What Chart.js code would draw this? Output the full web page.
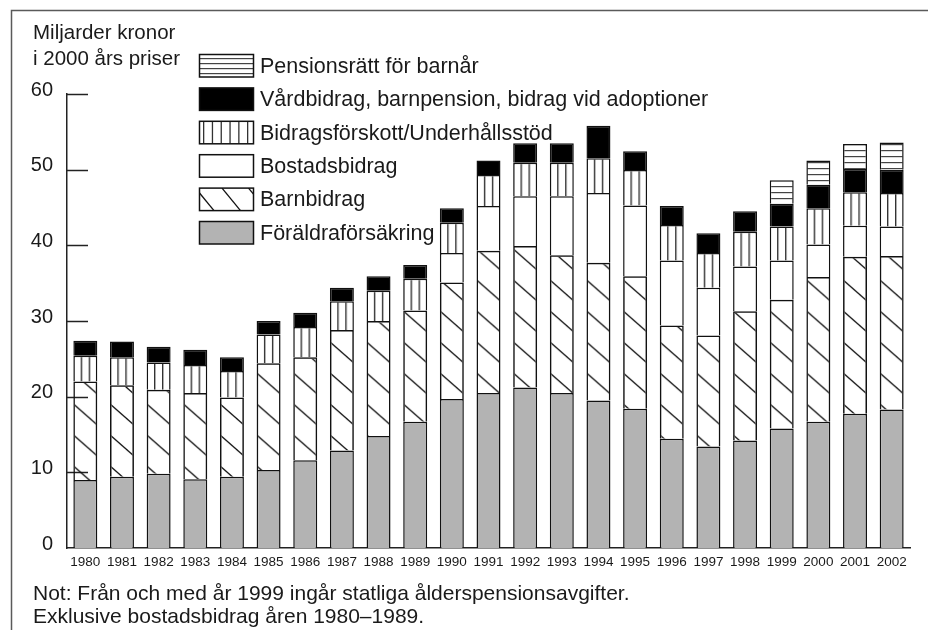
<!DOCTYPE html>
<html><head><meta charset="utf-8">
<script src="https://cdn.jsdelivr.net/npm/chart.js@4.4.1/dist/chart.umd.min.js"></script>
<style>html,body{margin:0;padding:0;background:#fff;}canvas{display:block;}</style>
</head><body>
<canvas id="c" width="928" height="630"></canvas>
<script>
// ---- DATA (Miljarder kronor i 2000 års priser) ----
const years = ['1980','1981','1982','1983','1984','1985','1986','1987','1988','1989','1990','1991','1992','1993','1994','1995','1996','1997','1998','1999','2000','2001','2002'];
const foraldraforsakring = [9.0,9.4,9.8,9.1,9.4,10.3,11.6,12.9,14.8,16.7,19.7,20.5,21.2,20.5,19.5,18.4,14.45,13.4,14.2,15.8,16.7,17.75,18.3];
const barnbidrag = [13.0,12.1,11.1,11.4,10.5,14.1,13.6,15.9,15.2,14.7,15.4,18.8,18.7,18.2,18.2,17.5,14.95,14.7,17.1,17.0,19.1,20.75,20.3];
const bostadsbidrag = [null,null,null,null,null,null,null,null,null,null,3.9,5.9,6.6,7.8,9.2,9.35,8.6,6.3,5.9,5.2,4.3,4.1,3.9];
const bidragsforskott = [3.4,3.7,3.6,3.7,3.5,3.8,4.0,3.8,4.0,4.2,4.0,4.1,4.4,4.4,4.6,4.7,4.7,4.6,4.6,4.5,4.8,4.4,4.4];
const vardbidrag = [2.0,2.1,2.1,2.0,1.8,1.8,1.9,1.8,1.9,1.8,1.9,1.9,2.6,2.6,4.3,2.5,2.5,2.6,2.7,3.0,3.1,3.1,3.1];
const pensionsratt = [null,null,null,null,null,null,null,null,null,null,null,null,null,null,null,null,null,null,null,3.1,3.2,3.3,3.6];
const yTicks = [0,10,20,30,40,50,60];
const seriesNames = ['Föräldraförsäkring','Barnbidrag','Bostadsbidrag','Bidragsförskott/Underhållsstöd','Vårdbidrag, barnpension, bidrag vid adoptioner','Pensionsrätt för barnår'];
const axisTitle = ['Miljarder kronor','i 2000 års priser'];
const notes = ['Not: Från och med år 1999 ingår statliga ålderspensionsavgifter.','Exklusive bostadsbidrag åren 1980–1989.'];

// ---- STYLE ----
const FONT = '"Liberation Sans", Arial, Helvetica, sans-serif';
const TXT = '#1a1a1a';
const BAR_PCT = 0.654;
const GREY = '#b3b3b3';

function xFont(){
  const c = document.createElement('canvas').getContext('2d');
  c.font = '16px monospace'; const a = c.measureText('1980 abcdef').width;
  c.font = '16px "Liberation Sans Narrow", monospace'; const b = c.measureText('1980 abcdef').width;
  return a !== b ? {family:'"Liberation Sans Narrow"', size:16} : {family:FONT, size:13.5};
}

function mkCanvas(w,h){const c=document.createElement('canvas');c.width=w;c.height=h;return c;}

const patCache = {};
function barGeom(chart, i){
  const xs = chart.scales.x;
  const w = xs.width / years.length * BAR_PCT;
  const left = xs.getPixelForValue(i) - w/2;
  return {left, w};
}
function diagTile(w){
  const W = Math.ceil(w)+3, H = 31, slope = 0.88;
  const c = mkCanvas(W,H), g = c.getContext('2d');
  g.strokeStyle = '#111'; g.lineWidth = 1.3;
  for (const y0 of [-H,0,H]) { g.beginPath(); g.moveTo(-1,y0); g.lineTo(W+1,y0+slope*(W+2)); g.stroke(); }
  return c;
}
function vertTile(step){
  const W = step, c = mkCanvas(Math.round(W*4),4), g = c.getContext('2d');
  g.fillStyle='#fff'; g.fillRect(0,0,c.width,4);
  g.fillStyle='#333';
  for (let k=0;k<4;k++) g.fillRect(Math.round(k*W),0,1.4,4);
  return c;
}
function horizTile(){
  const c = mkCanvas(4,6), g = c.getContext('2d');
  g.fillStyle='#fff'; g.fillRect(0,0,4,6);
  g.fillStyle='#444'; g.fillRect(0,0,4,1.2);
  return c;
}
function patternFor(kind, ctx){
  const chart = ctx.chart;
  if (ctx.type !== 'data' || !chart.scales || !chart.scales.x || !chart.chartArea) return '#fff';
  const {left, w} = barGeom(chart, ctx.dataIndex);
  const key = kind + ':' + ctx.dataIndex + ':' + left.toFixed(2);
  if (patCache[key]) return patCache[key];
  const g = chart.ctx;
  let p;
  if (kind === 'diag') {
    p = g.createPattern(diagTile(w), 'repeat');
    p.setTransform(new DOMMatrix().translate(left, 0));
  } else if (kind === 'vert') {
    p = g.createPattern(vertTile(w/3), 'repeat');
    p.setTransform(new DOMMatrix().translate(left-0.7, 0));
  } else {
    p = g.createPattern(horizTile(), 'repeat');
  }
  patCache[key] = p;
  return p;
}

const common = {borderColor:'#111', borderWidth:1.5, borderSkipped:'start', barPercentage:BAR_PCT, categoryPercentage:1};
const datasets = [
  {label:seriesNames[0], data:foraldraforsakring, backgroundColor:GREY, ...common},
  {label:seriesNames[1], data:barnbidrag, backgroundColor:(c)=>patternFor('diag',c), ...common},
  {label:seriesNames[2], data:bostadsbidrag, backgroundColor:'#fff', ...common},
  {label:seriesNames[3], data:bidragsforskott, backgroundColor:(c)=>patternFor('vert',c), ...common},
  {label:seriesNames[4], data:vardbidrag, backgroundColor:'#000', ...common},
  {label:seriesNames[5], data:pensionsratt, backgroundColor:(c)=>patternFor('horiz',c), ...common}
];

const decor = {
  id:'decor',
  beforeDraw(chart){
    const g = chart.ctx;
    g.save();
    g.fillStyle='#fff'; g.fillRect(0,0,chart.width,chart.height);
    g.strokeStyle='#5a5a5a'; g.lineWidth=1.5;
    g.beginPath(); g.moveTo(11.5,chart.height); g.lineTo(11.5,10.5); g.lineTo(chart.width,10.5); g.stroke();
    g.restore();
  },
  beforeDatasetsDraw(chart){
    const g = chart.ctx, ys = chart.scales.y, a = chart.chartArea;
    g.save(); g.strokeStyle='#222'; g.lineWidth=1.5;
    for (const v of yTicks) {
      if (v===0) continue;
      const y = Math.round(ys.getPixelForValue(v))+0.5;
      g.beginPath(); g.moveTo(a.left, y); g.lineTo(a.left+21, y); g.stroke();
    }
    g.restore();
  },
  afterDraw(chart){
    const g = chart.ctx;
    g.save();
    g.fillStyle = TXT; g.textAlign='left'; g.textBaseline='alphabetic';
    g.font = '20.5px ' + FONT;
    g.fillText(axisTitle[0], 33, 39);
    g.fillText(axisTitle[1], 33, 65);
    const bx = 199.5, bw = 54, bh = 22.5, top0 = 54.5, step = 33.4;
    g.font = '21.5px ' + FONT;
    for (let r=0;r<6;r++){
      const di = 5 - r;
      const y = top0 + r*step;
      g.save();
      g.beginPath(); g.rect(bx,y,bw,bh); g.clip();
      g.fillStyle = '#fff'; g.fillRect(bx,y,bw,bh);
      if (di===0){ g.fillStyle=GREY; g.fillRect(bx,y,bw,bh); }
      else if (di===4){ g.fillStyle='#000'; g.fillRect(bx,y,bw,bh); }
      else if (di===5){ g.fillStyle='#444'; for (let k=0;k<4;k++) g.fillRect(bx, y+3.5+k*5, bw, 1.2); }
      else if (di===3){ g.fillStyle='#333'; for (let k=0;k<6;k++) g.fillRect(bx+3.5+k*8.8, y, 1.3, bh); }
      else if (di===1){ g.strokeStyle='#111'; g.lineWidth=1.3;
        for (const x0 of [-4, 22.5, 49]) { g.beginPath(); g.moveTo(bx+x0, y); g.lineTo(bx+x0+18.5, y+bh); g.stroke(); } }
      g.restore();
      g.strokeStyle='#111'; g.lineWidth=1.5; g.strokeRect(bx,y,bw,bh);
      g.fillStyle = TXT;
      g.fillText(seriesNames[di], 260, y + bh/2 + 7);
    }
    g.font = '21px ' + FONT; g.fillStyle = TXT;
    g.fillText(notes[0], 33, 600);
    g.fillText(notes[1], 33, 623);
    g.restore();
  }
};

const xf = xFont();
Chart.defaults.font.family = FONT;
Chart.defaults.color = TXT;
new Chart(document.getElementById('c'), {
  type:'bar',
  data:{labels:years, datasets},
  options:{
    responsive:false, animation:false, devicePixelRatio:1,
    layout:{padding:{left:0, top:94, right:18, bottom:0}},
    plugins:{legend:{display:false}, title:{display:false}, tooltip:{enabled:false}},
    scales:{
      x:{stacked:true, grid:{display:false, drawTicks:false},
         border:{display:true, color:'#222', width:1.5},
         ticks:{autoSkip:false, maxRotation:0, padding:6, color:TXT, font:{family:xf.family, size:xf.size}},
         afterFit(s){ s.height = 82; }},
      y:{stacked:true, min:0, max:60,
         grid:{display:false, drawTicks:false},
         border:{display:true, color:'#222', width:1.5},
         ticks:{stepSize:10, padding:14, labelOffset:-4, color:TXT, font:{size:20}},
         afterFit(s){ s.width = 67; }}
    }
  },
  plugins:[decor]
});
</script>
</body></html>
